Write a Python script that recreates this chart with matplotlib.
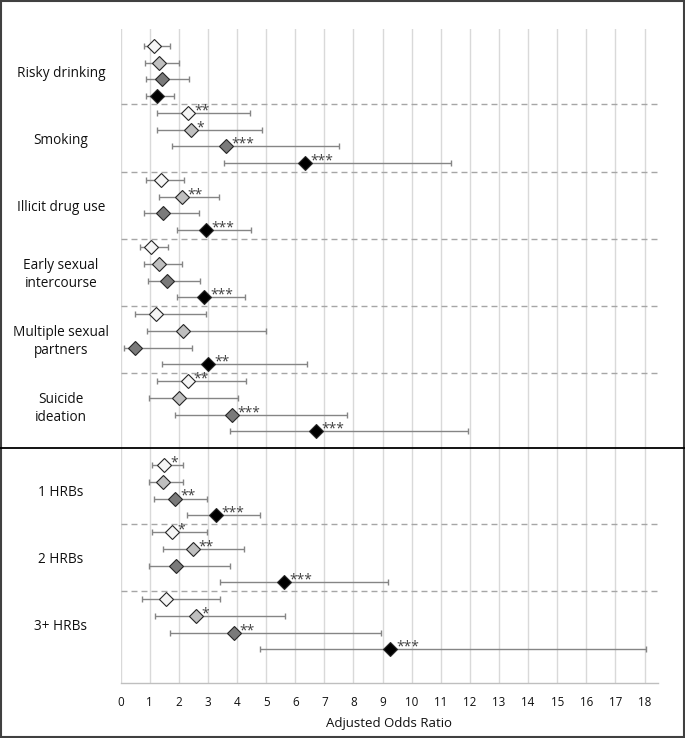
import matplotlib
matplotlib.use('Agg')
import matplotlib.pyplot as plt
import matplotlib.transforms as mtransforms
from matplotlib.lines import Line2D
from matplotlib.patches import Rectangle

plt.rcParams['font.family'] = ['Open Sans', 'DejaVu Sans']

# группы (строки слева)
groups = ['Risky drinking', 'Smoking', 'Illicit drug use', 'Early sexual\nintercourse',
          'Multiple sexual\npartners', 'Suicide\nideation', '1 HRBs', '2 HRBs', '3+ HRBs']
n_top = 6  # первые 6 групп в верхней панели

# серия 1 (белые ромбы)
or_1 = [1.16, 2.33, 1.38, 1.06, 1.21, 2.32, 1.51, 1.78, 1.57]
lo_1 = [0.80, 1.24, 0.89, 0.68, 0.50, 1.24, 1.07, 1.07, 0.73]
hi_1 = [1.71, 4.44, 2.17, 1.63, 2.93, 4.32, 2.14, 2.96, 3.42]
st_1 = ['', '**', '', '', '', '**', '*', '*', '']

# серия 2 (светло-серые)
or_2 = [1.31, 2.43, 2.11, 1.31, 2.14, 2.00, 1.45, 2.49, 2.59]
lo_2 = [0.85, 1.24, 1.33, 0.81, 0.90, 0.99, 0.97, 1.45, 1.19]
hi_2 = [2.00, 4.85, 3.37, 2.12, 5.00, 4.03, 2.16, 4.24, 5.66]
st_2 = ['', '*', '**', '', '', '', '', '**', '*']

# серия 3 (тёмно-серые)
or_3 = [1.43, 3.62, 1.47, 1.59, 0.50, 3.83, 1.86, 1.91, 3.90]
lo_3 = [0.86, 1.76, 0.82, 0.94, 0.11, 1.88, 1.16, 0.97, 1.71]
hi_3 = [2.35, 7.52, 2.70, 2.74, 2.47, 7.79, 2.98, 3.77, 8.96]
st_3 = ['', '***', '', '', '', '***', '**', '', '**']

# серия 4 (чёрные)
or_4 = [1.25, 6.33, 2.94, 2.88, 3.02, 6.71, 3.29, 5.61, 9.27]
lo_4 = [0.86, 3.56, 1.95, 1.94, 1.44, 3.76, 2.30, 3.43, 4.79]
hi_4 = [1.85, 11.34, 4.47, 4.29, 6.39, 11.93, 4.80, 9.18, 18.06]
st_4 = ['', '***', '***', '***', '**', '***', '***', '***', '***']

series = [(or_1, lo_1, hi_1, st_1, '#f5f5f5'),
          (or_2, lo_2, hi_2, st_2, '#bfbfbf'),
          (or_3, lo_3, hi_3, st_3, '#7a7a7a'),
          (or_4, lo_4, hi_4, st_4, '#000000')]

fig = plt.figure(figsize=(6.85, 7.38), dpi=100)
ax = fig.add_axes([120.5 / 685, 1 - 683 / 738, (658 - 120.5) / 685, (683 - 29) / 738])


def row_of(g, j):
    # одна пустая строка между панелями
    return 4 * g + j + (0 if g < n_top else 1)


for j, (vals, lo, hi, stars, fc) in enumerate(series):
    ys = [row_of(g, j) for g in range(len(groups))]
    err = [[v - l for v, l in zip(vals, lo)], [h - v for v, h in zip(vals, hi)]]
    ax.errorbar(vals, ys, xerr=err, fmt='none', ecolor='#858585', elinewidth=1.0,
                capsize=2.4, capthick=1.0, zorder=3)
    ax.plot(vals, ys, 'D', ms=7, mfc=fc, mec='#262626', mew=0.8, ls='none', zorder=4)
    for v, y, s in zip(vals, ys, stars):
        if s:
            ax.annotate(s, (v, y), xytext=(4, 1.5), textcoords='offset points',
                        ha='left', va='center', fontsize=10, color='#404040', zorder=5)

# пунктирные разделители
for g in range(len(groups) - 1):
    if g == n_top - 1:
        continue
    ax.axhline(row_of(g, 3) + 0.5, color='#a6a6a6', lw=1.0, dashes=(4.3, 2.9), zorder=2)

# сплошная линия между панелями через всю ширину
tr = mtransforms.blended_transform_factory(fig.transFigure, ax.transData)
fig.add_artist(Line2D([0, 1], [row_of(n_top, 0) - 1, row_of(n_top, 0) - 1],
                      transform=tr, color='black', lw=1.3))

# подписи групп
for g, name in enumerate(groups):
    yc = (row_of(g, 0) + row_of(g, 3)) / 2 + 0.15
    ax.text(61 / 685, yc, name, transform=tr, ha='center', va='center',
            fontsize=9.8, color='#111111', linespacing=1.3)

ax.set_xlim(0, 18.46)
ax.set_ylim(38, -1)
ax.set_xticks(range(0, 19))
ax.set_yticks([])
ax.tick_params(axis='x', length=0, pad=9, labelsize=8.4, colors='#111111')
ax.grid(axis='x', color='#d9d9d9', lw=1.0, zorder=0)
ax.set_axisbelow(True)
for side in ['top', 'left', 'right']:
    ax.spines[side].set_visible(False)
ax.spines['bottom'].set_color('#bfbfbf')
ax.spines['bottom'].set_linewidth(1.0)
ax.set_xlabel('Adjusted Odds Ratio', fontsize=9.5, color='#111111', labelpad=6)

# рамка вокруг рисунка
fig.patches.append(Rectangle((0.001, 0.001), 0.998, 0.998, transform=fig.transFigure,
                             fill=False, edgecolor='#404040', lw=1.5))

fig.savefig('out.png', dpi=100)
